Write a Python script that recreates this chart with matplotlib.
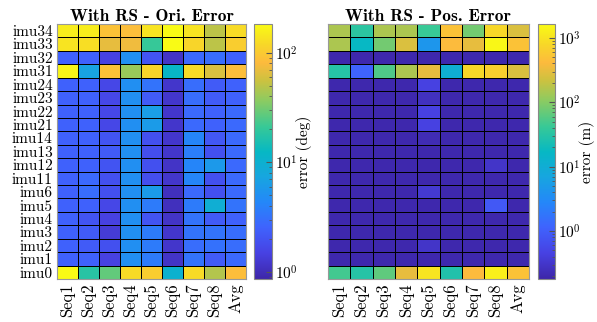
import numpy as np
import matplotlib
matplotlib.use('Agg')
import matplotlib.pyplot as plt
from matplotlib.colors import LinearSegmentedColormap, LogNorm

plt.rcParams['font.family'] = ['cmr10', 'DejaVu Serif']
plt.rcParams['mathtext.fontset'] = 'cm'
plt.rcParams['axes.formatter.use_mathtext'] = True

imus = ['imu34', 'imu33', 'imu32', 'imu31', 'imu24', 'imu23', 'imu22', 'imu21',
        'imu14', 'imu13', 'imu12', 'imu11', 'imu6', 'imu5', 'imu4', 'imu3',
        'imu2', 'imu1', 'imu0']
seqs = ['Seq1', 'Seq2', 'Seq3', 'Seq4', 'Seq5', 'Seq6', 'Seq7', 'Seq8', 'Avg']

# orientation error (deg)
ori_err = np.array([
    [152, 152, 90, 85, 137, 183, 137, 50, 123],
    [137, 130, 69, 73, 21, 183, 117, 50, 105],
    [2.5, 2.5, 1.47, 4.9, 2.0, 1.13, 2.77, 2.9, 2.5],
    [169, 7.1, 90, 40, 117, 12, 123, 62, 85],
    [2.5, 2.5, 1.63, 4.9, 3.2, 1.19, 2.9, 2.24, 2.5],
    [2.5, 2.5, 1.63, 4.9, 2.24, 1.19, 2.9, 2.24, 2.5],
    [2.5, 2.5, 1.63, 4.9, 6.4, 1.19, 2.77, 2.5, 2.77],
    [2.5, 2.5, 1.63, 4.9, 6.1, 1.19, 2.77, 2.5, 2.77],
    [2.5, 2.5, 2.0, 4.9, 1.9, 1.19, 4.2, 2.1, 2.77],
    [2.5, 2.5, 2.24, 4.9, 1.81, 1.19, 3.8, 1.9, 2.77],
    [2.5, 2.5, 2.0, 4.9, 1.9, 1.13, 4.2, 5.8, 2.77],
    [2.5, 2.77, 1.9, 4.9, 1.81, 1.19, 4.2, 1.9, 2.77],
    [2.5, 2.9, 1.9, 4.9, 6.1, 1.06, 2.77, 1.9, 2.77],
    [2.5, 2.5, 1.63, 4.9, 3.6, 1.06, 3.6, 9.3, 3.2],
    [2.5, 2.0, 1.47, 4.9, 2.0, 1.13, 3.2, 2.24, 2.5],
    [2.5, 2.24, 1.32, 4.9, 3.6, 1.19, 3.2, 3.2, 2.9],
    [2.5, 2.24, 1.9, 4.9, 3.6, 1.19, 2.9, 3.1, 2.9],
    [2.5, 2.5, 1.47, 4.9, 3.6, 1.13, 3.2, 2.24, 2.77],
    [183, 18, 28, 123, 105, 10.3, 123, 47, 85],
])

# position error (m)
pos_err = np.array([
    [155, 35, 155, 155, 42, 500, 80, 790, 266],
    [155, 16.6, 80, 266, 4.3, 418, 318, 1500, 500],
    [0.2, 0.2, 0.2, 0.2, 0.2, 0.2, 0.2, 0.2, 0.2],
    [31, 1.13, 55, 155, 318, 10.5, 790, 660, 266],
    [0.2, 0.2, 0.2, 0.2, 0.45, 0.2, 0.2, 0.2, 0.2],
    [0.2, 0.2, 0.2, 0.2, 0.26, 0.2, 0.2, 0.2, 0.2],
    [0.2, 0.2, 0.2, 0.2, 0.45, 0.2, 0.2, 0.2, 0.2],
    [0.2, 0.2, 0.2, 0.2, 0.45, 0.2, 0.2, 0.2, 0.2],
    [0.2, 0.2, 0.2, 0.2, 0.22, 0.2, 0.2, 0.2, 0.2],
    [0.2, 0.2, 0.2, 0.2, 0.2, 0.2, 0.2, 0.2, 0.2],
    [0.2, 0.2, 0.2, 0.2, 0.2, 0.2, 0.2, 0.3, 0.2],
    [0.2, 0.2, 0.2, 0.2, 0.2, 0.2, 0.2, 0.2, 0.2],
    [0.2, 0.2, 0.2, 0.2, 0.35, 0.2, 0.2, 0.2, 0.2],
    [0.2, 0.2, 0.2, 0.2, 0.2, 0.2, 0.2, 0.85, 0.2],
    [0.2, 0.2, 0.2, 0.2, 0.2, 0.2, 0.2, 0.2, 0.2],
    [0.2, 0.2, 0.2, 0.2, 0.2, 0.2, 0.2, 0.2, 0.2],
    [0.2, 0.2, 0.2, 0.2, 0.3, 0.2, 0.2, 0.2, 0.2],
    [0.2, 0.2, 0.2, 0.2, 0.2, 0.2, 0.2, 0.2, 0.2],
    [48, 31, 65, 318, 1040, 28, 418, 1300, 500],
])

# parula-like colormap
parula = LinearSegmentedColormap.from_list('parula', [
    (0.00, (0.2422, 0.1504, 0.6603)), (0.10, (0.2788, 0.2568, 0.8887)),
    (0.20, (0.2471, 0.3872, 0.9938)), (0.30, (0.1408, 0.5317, 0.9754)),
    (0.40, (0.0894, 0.6504, 0.8736)), (0.50, (0.0244, 0.7216, 0.7664)),
    (0.60, (0.2196, 0.7869, 0.5876)), (0.70, (0.5453, 0.7961, 0.3838)),
    (0.78, (0.80, 0.76, 0.25)), (0.85, (0.99, 0.73, 0.24)),
    (0.92, (0.97, 0.84, 0.16)), (1.00, (0.9769, 0.9839, 0.0805))], N=256)

fig = plt.figure(figsize=(5.97, 3.22), dpi=100)

def heat(ax_pos, cb_pos, data, vmin, vmax, title, cblabel, show_y):
    ax = fig.add_axes(ax_pos)
    cax = fig.add_axes(cb_pos)
    m = ax.pcolormesh(data, cmap=parula, norm=LogNorm(vmin, vmax),
                      edgecolors='k', linewidth=0.6)
    ax.set_xlim(0, data.shape[1])
    ax.set_ylim(data.shape[0], 0)
    ax.set_xticks(np.arange(len(seqs)) + 0.5)
    ax.set_xticklabels(seqs, rotation=90, fontsize=12)
    ax.set_yticks(np.arange(len(imus)) + 0.5)
    if show_y:
        ax.set_yticklabels(imus, fontsize=11)
    else:
        ax.set_yticklabels([])
    ax.tick_params(length=0, pad=3)
    for s in ax.spines.values():
        s.set_color('#999999')
    ax.set_title(title, fontsize=12.5, fontfamily='cmb10', pad=2)
    cb = fig.colorbar(m, cax=cax)
    cb.outline.set_edgecolor('#888888')
    cax.tick_params(which='both', direction='in', labelsize=11, color='#555555', pad=2)
    cax.tick_params(which='major', length=4)
    cax.tick_params(which='minor', length=2)
    cb.set_label(cblabel, fontsize=11, labelpad=-1)
    return ax

heat([0.0955, 0.1335, 0.3166, 0.792], [0.4255, 0.1335, 0.030, 0.792],
     ori_err, 0.86, 183, 'With RS - Ori. Error', 'error (deg)', True)
heat([0.5494, 0.1335, 0.3367, 0.792], [0.9012, 0.1335, 0.0285, 0.792],
     pos_err, 0.18, 1640, 'With RS - Pos. Error', 'error (m)', False)

fig.savefig('out.png', dpi=100)
